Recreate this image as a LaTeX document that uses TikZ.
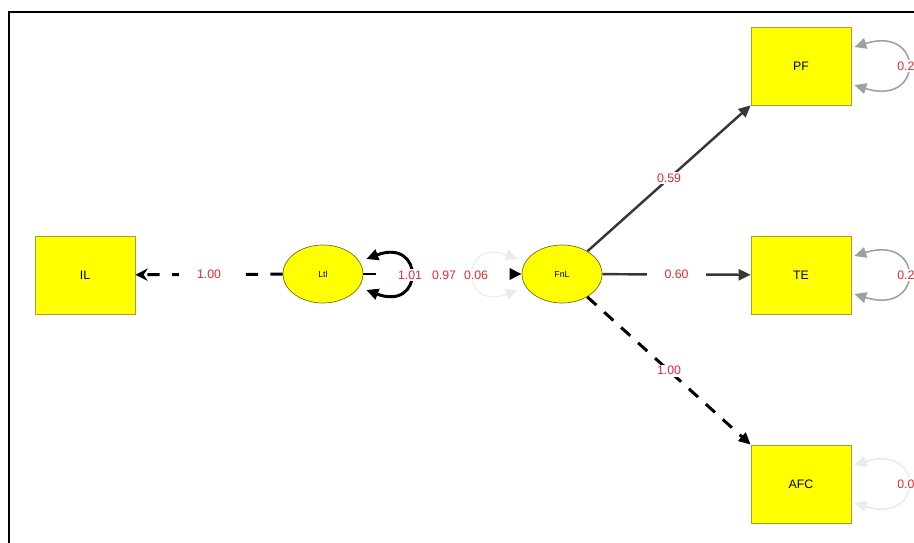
\documentclass[tikz,border=0pt]{standalone}
\usepackage{fontspec}
\setmainfont{Liberation Sans}
\usetikzlibrary{arrows.meta,calc,shapes.geometric}
\definecolor{semyellow}{RGB}{255,255,0}
\definecolor{semborder}{RGB}{165,160,50}
\definecolor{semred}{RGB}{232,40,50}
\definecolor{semdark}{RGB}{55,55,55}
\definecolor{semgray}{RGB}{160,160,160}
\definecolor{semfaint}{RGB}{235,235,235}

\begin{document}
\begin{tikzpicture}[x=0.02cm,y=-0.02cm,
  obs/.style={draw=semborder,fill=semyellow,minimum width=2cm,minimum height=1.56cm,inner sep=0pt,font=\fontsize{7}{8}\selectfont},
  lat/.style={ellipse,draw=semborder!70!black,fill=semyellow,minimum width=1.6cm,minimum height=1.16cm,inner sep=0pt,font=\fontsize{5}{6}\selectfont},
  est/.style={text=semred,fill=white,inner xsep=10pt,inner ysep=1pt,font=\fontsize{7}{8}\selectfont},
  tip/.tip={Triangle[length=6.8pt,width=6.2pt]}]

\useasboundingbox (0,0) rectangle (914,543);
\clip (0,0) rectangle (914,543);
\draw [line width=1.2pt] (9,580) -- (9,12) -- (940,12);

\node [obs] (IL) at (85,275) {IL};
\node [lat] (Ltl) at (323,274) {Ltl};
\node [lat] (FnL) at (562,274) {FnL};
\node [obs] (PF) at (801,66) {PF};
\node [obs] (TE) at (801,275) {TE};
\node [obs] (AFC) at (801,484) {AFC};

% loops
\draw [semgray,line width=0.9pt,tip-tip] ($(PF.east)+(3,-19)$) .. controls +(70,-22) and +(70,22) .. ($(PF.east)+(3,19)$);
\draw [semgray,line width=0.9pt,tip-tip] ($(TE.east)+(3,-19)$) .. controls +(70,-22) and +(70,22) .. ($(TE.east)+(3,19)$);
\draw [semfaint,line width=0.9pt,tip-tip] ($(AFC.east)+(3,-19)$) .. controls +(70,-22) and +(70,22) .. ($(AFC.east)+(3,19)$);
\draw [semfaint,line width=0.6pt,tip-tip] ($(FnL.west)+(-4,-15)$) .. controls +(-58,-22) and +(-58,22) .. ($(FnL.west)+(-4,16)$);
\draw [line width=1.7pt,tip-tip] ($(Ltl.east)+(3,-15)$) .. controls +(58,-22) and +(58,22) .. ($(Ltl.east)+(3,16)$);

% paths
\draw [line width=1.7pt,dash pattern=on 7pt off 7pt,-{Stealth[length=7pt,width=7pt]}] (Ltl) -- (IL) node [est,midway] {1.00};
\draw [line width=1.7pt,dash pattern=on 7pt off 90pt,-tip] (Ltl) -- (FnL);
\draw [semdark,line width=1.4pt,-tip] (FnL) -- (PF.south west) node [est,midway] {0.59};
\draw [semdark,line width=1.4pt,-tip] (FnL) -- (TE) node [est,midway] {0.60};
\draw [line width=1.7pt,dash pattern=on 7pt off 6pt,-tip] (FnL) -- (AFC.north west) node [est,midway] {1.00};

\node [est,inner xsep=1pt] (e1) at (410,275) {1.01};
\node [est,inner xsep=1pt] (e2) at (444,275) {0.97};
\node [est,inner xsep=1pt] (e3) at (476,275) {0.06};
\node [est,inner xsep=0pt,anchor=west] (e4) at (897,66) {0.2};
\node [est,inner xsep=0pt,anchor=west] (e5) at (897,275) {0.2};
\node [est,inner xsep=0pt,anchor=west] (e6) at (897,484) {0.0};
\end{tikzpicture}
\end{document}
